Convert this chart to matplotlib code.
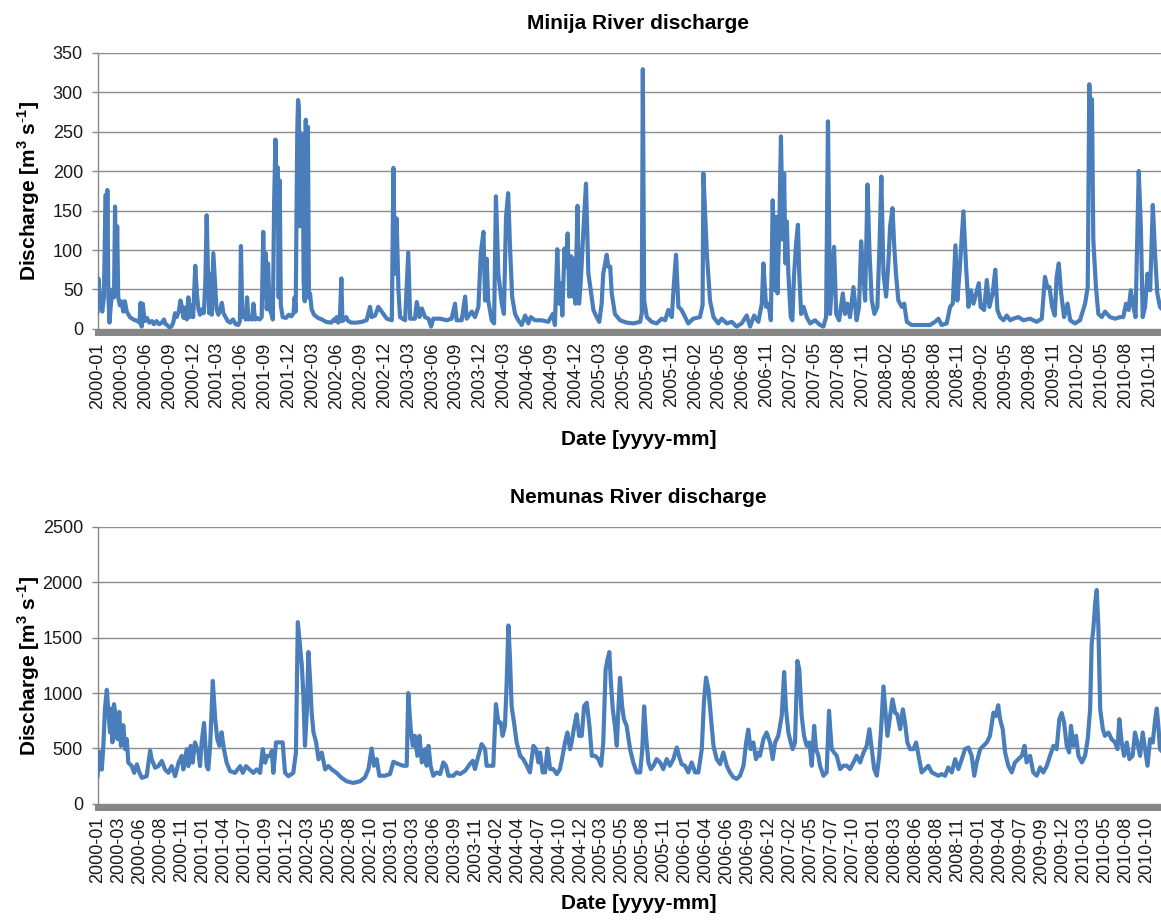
import numpy as np
import matplotlib
matplotlib.use("Agg")
import matplotlib.pyplot as plt

plt.rcParams['font.family'] = ['Liberation Sans', 'DejaVu Sans']
plt.rcParams['mathtext.fontset'] = 'custom'
plt.rcParams['mathtext.rm'] = 'Liberation Sans'
plt.rcParams['mathtext.bf'] = 'Liberation Sans:bold'

# day of record (0 = 2000-01-01) and discharge
minija_day = [0, 3, 7, 12, 18, 24, 28, 31, 34, 37, 41, 45, 50, 56, 62, 66, 70, 74, 78, 84,
              90, 97, 103, 110, 122, 135, 150, 158, 162, 166, 170, 178, 186, 195, 205, 212, 222, 232, 242, 250,
              256, 262, 270, 278, 285, 292, 298, 306, 312, 318, 324, 330, 336, 342, 348, 354, 360, 368, 374, 380,
              386, 394, 400, 406, 411, 416, 420, 424, 430, 436, 442, 448, 455, 462, 468, 474, 482, 490, 500, 510,
              520, 530, 536, 540, 545, 552, 558, 563, 568, 575, 582, 587, 593, 600, 610, 618, 624, 628, 633, 637,
              642, 648, 654, 660, 665, 670, 674, 678, 682, 686, 690, 697, 710, 720, 730, 738, 742, 746, 752, 755,
              758, 762, 765, 768, 772, 776, 780, 784, 788, 792, 796, 800, 806, 815, 830, 845, 860, 880, 890, 896,
              900, 906, 912, 918, 922, 930, 936, 944, 955, 975, 995, 1013, 1026, 1032, 1045, 1057, 1070, 1089, 1108, 1114,
              1120, 1126, 1133, 1139, 1158, 1170, 1177, 1195, 1202, 1212, 1221, 1233, 1246, 1256, 1264, 1290, 1315, 1333, 1346, 1352,
              1371, 1384, 1390, 1409, 1421, 1434, 1443, 1453, 1459, 1465, 1471, 1484, 1493, 1500, 1509, 1522, 1530, 1538, 1546, 1553,
              1561, 1572, 1584, 1597, 1610, 1622, 1631, 1647, 1672, 1697, 1714, 1722, 1731, 1738, 1744, 1750, 1758, 1764, 1770, 1776,
              1783, 1789, 1794, 1799, 1807, 1813, 1819, 1829, 1839, 1848, 1857, 1867, 1879, 1889, 1898, 1904, 1917, 1923, 1930, 1936,
              1948, 1967, 1992, 2017, 2043, 2049, 2053, 2058, 2068, 2086, 2105, 2124, 2137, 2149, 2162, 2171, 2178, 2187, 2199, 2212,
              2224, 2243, 2268, 2278, 2281, 2294, 2306, 2319, 2337, 2350, 2369, 2388, 2406, 2425, 2444, 2457, 2472, 2488, 2501, 2507,
              2517, 2526, 2535, 2542, 2551, 2555, 2560, 2567, 2573, 2580, 2585, 2590, 2595, 2601, 2610, 2616, 2622, 2630, 2637, 2642,
              2649, 2658, 2670, 2683, 2701, 2720, 2733, 2743, 2750, 2758, 2764, 2773, 2781, 2792, 2806, 2814, 2823, 2833, 2846, 2858,
              2867, 2875, 2881, 2890, 2899, 2906, 2915, 2925, 2936, 2944, 2951, 2959, 2969, 2978, 2984, 2993, 2999, 3006, 3015, 3028,
              3037, 3047, 3065, 3084, 3109, 3134, 3153, 3166, 3178, 3197, 3210, 3220, 3230, 3237, 3245, 3260, 3270, 3279, 3288, 3298,
              3308, 3318, 3325, 3338, 3348, 3358, 3370, 3380, 3388, 3398, 3411, 3423, 3436, 3448, 3467, 3486, 3511, 3536, 3555, 3567,
              3576, 3584, 3594, 3604, 3611, 3619, 3628, 3639, 3652, 3662, 3680, 3699, 3718, 3728, 3734, 3739, 3744, 3749, 3759, 3768,
              3781, 3793, 3812, 3831, 3850, 3862, 3872, 3882, 3890, 3900, 3908, 3920, 3928, 3935, 3944, 3953, 3963, 3973, 3982, 3990,
              4000, 4017]
minija_q = [22, 64, 50, 30, 22, 40, 125, 170, 60, 176, 40, 8, 30, 50, 40, 155, 60, 130, 40, 30,
            35, 22, 35, 22, 15, 12, 10, 8, 33, 3, 32, 10, 14, 8, 10, 6, 10, 6, 8, 12,
            6, 5, 2, 3, 8, 20, 15, 22, 36, 28, 14, 27, 12, 40, 15, 30, 15, 80, 45, 25,
            18, 25, 20, 60, 144, 70, 20, 70, 18, 96, 60, 25, 18, 25, 33, 20, 15, 10, 8, 12,
            6, 5, 10, 105, 15, 20, 12, 40, 12, 14, 12, 32, 12, 14, 12, 15, 123, 40, 96, 25,
            83, 25, 20, 12, 162, 240, 150, 205, 40, 188, 30, 15, 14, 18, 16, 20, 40, 22, 250, 290,
            282, 130, 248, 150, 246, 60, 35, 265, 40, 256, 40, 45, 25, 18, 14, 12, 9, 8, 12, 10,
            15, 8, 10, 64, 10, 12, 15, 10, 8, 8, 9, 11, 28, 15, 17, 28, 22, 13, 11, 204,
            70, 140, 49, 15, 11, 97, 13, 13, 34, 15, 26, 15, 13, 3, 13, 13, 11, 13, 32, 11,
            11, 41, 13, 22, 15, 28, 96, 123, 36, 89, 36, 11, 7, 168, 70, 32, 19, 142, 172, 104,
            41, 19, 11, 5, 17, 7, 15, 11, 11, 9, 19, 5, 101, 32, 58, 17, 102, 79, 121, 41,
            92, 41, 89, 32, 156, 32, 58, 123, 184, 70, 49, 24, 15, 9, 32, 70, 94, 79, 79, 45,
            19, 11, 8, 7, 9, 20, 329, 36, 15, 9, 7, 13, 11, 24, 15, 62, 94, 28, 24, 15,
            7, 13, 15, 30, 197, 96, 36, 15, 7, 13, 7, 9, 3, 7, 17, 3, 17, 9, 32, 83,
            28, 32, 11, 163, 49, 142, 45, 134, 244, 113, 197, 83, 136, 70, 15, 11, 66, 108, 132, 70,
            19, 28, 15, 7, 11, 5, 3, 15, 263, 19, 53, 104, 19, 11, 45, 19, 32, 15, 53, 11,
            28, 111, 79, 36, 183, 100, 36, 19, 28, 104, 193, 70, 41, 87, 130, 153, 108, 70, 36, 28,
            32, 9, 5, 5, 5, 5, 9, 13, 5, 7, 28, 32, 106, 36, 70, 149, 79, 28, 49, 32,
            45, 58, 28, 24, 62, 28, 45, 75, 24, 15, 11, 17, 11, 13, 15, 11, 13, 9, 13, 66,
            53, 53, 28, 17, 66, 83, 45, 15, 32, 11, 7, 11, 32, 53, 310, 240, 291, 113, 53, 19,
            15, 22, 15, 13, 15, 15, 32, 24, 49, 28, 15, 200, 130, 15, 28, 70, 49, 157, 92, 45,
            28, 22]

nemunas_day = [0, 3, 9, 16, 22, 28, 35, 41, 47, 51, 56, 62, 70, 75, 82, 88, 97, 104, 110, 116,
               129, 138, 148, 158, 167, 185, 198, 204, 217, 229, 242, 254, 267, 279, 292, 305, 317, 323, 336, 342,
               351, 358, 367, 380, 386, 392, 401, 411, 417, 424, 434, 443, 451, 459, 467, 476, 486, 499, 518, 537,
               547, 559, 572, 587, 599, 612, 622, 631, 639, 650, 656, 662, 672, 685, 697, 706, 719, 737, 747, 754,
               762, 769, 775, 781, 788, 794, 800, 806, 813, 823, 832, 844, 857, 869, 882, 900, 919, 938, 963, 988,
               1007, 1020, 1032, 1041, 1051, 1061, 1082, 1101, 1114, 1133, 1151, 1164, 1170, 1179, 1187, 1195, 1204, 1212, 1221, 1233,
               1239, 1246, 1254, 1264, 1277, 1290, 1302, 1312, 1321, 1340, 1352, 1365, 1384, 1402, 1413, 1421, 1434, 1446, 1459, 1465,
               1478, 1490, 1500, 1509, 1518, 1525, 1534, 1540, 1547, 1553, 1559, 1568, 1578, 1591, 1603, 1616, 1628, 1641, 1651, 1660,
               1666, 1676, 1685, 1694, 1704, 1716, 1729, 1741, 1751, 1760, 1769, 1779, 1785, 1794, 1804, 1813, 1823, 1832, 1842, 1852,
               1861, 1873, 1886, 1896, 1904, 1913, 1920, 1927, 1932, 1940, 1948, 1955, 1961, 1967, 1975, 1982, 1992, 2005, 2017, 2030,
               2043, 2051, 2058, 2065, 2074, 2083, 2093, 2105, 2118, 2130, 2143, 2155, 2168, 2181, 2191, 2199, 2212, 2224, 2237, 2250,
               2262, 2275, 2283, 2291, 2300, 2309, 2319, 2331, 2344, 2356, 2369, 2381, 2394, 2406, 2419, 2432, 2442, 2450, 2459, 2469,
               2479, 2488, 2494, 2507, 2519, 2532, 2542, 2551, 2563, 2576, 2585, 2592, 2601, 2610, 2617, 2626, 2635, 2642, 2651, 2660,
               2670, 2680, 2689, 2698, 2705, 2714, 2720, 2733, 2745, 2754, 2764, 2773, 2783, 2796, 2808, 2821, 2833, 2846, 2858, 2871,
               2884, 2896, 2906, 2915, 2924, 2934, 2943, 2950, 2959, 2966, 2974, 2984, 2993, 3003, 3011, 3022, 3032, 3040, 3049, 3059,
               3072, 3082, 3091, 3103, 3116, 3128, 3141, 3153, 3166, 3178, 3191, 3203, 3216, 3229, 3241, 3254, 3266, 3279, 3291, 3301,
               3310, 3323, 3335, 3348, 3360, 3373, 3382, 3391, 3398, 3408, 3417, 3429, 3442, 3454, 3467, 3480, 3490, 3498, 3511, 3523,
               3536, 3549, 3561, 3574, 3586, 3599, 3611, 3621, 3630, 3639, 3649, 3658, 3665, 3674, 3684, 3693, 3706, 3718, 3728, 3737,
               3743, 3749, 3756, 3762, 3768, 3775, 3785, 3793, 3806, 3818, 3831, 3840, 3847, 3856, 3865, 3875, 3885, 3897, 3906, 3915,
               3925, 3935, 3944, 3953, 3963, 3973, 3982, 3988, 3994, 4000, 4017]
nemunas_q = [250, 340, 470, 310, 525, 860, 1030, 830, 646, 860, 555, 900, 768, 585, 830, 525, 710, 494, 585, 372,
             341, 280, 357, 280, 235, 250, 480, 402, 326, 341, 387, 311, 280, 341, 250, 372, 433, 311, 494, 341,
             524, 372, 555, 463, 341, 555, 730, 341, 311, 524, 1110, 768, 585, 524, 646, 494, 372, 296, 280, 341,
             280, 341, 311, 280, 311, 280, 494, 372, 433, 433, 478, 280, 555, 555, 555, 280, 250, 280, 463, 1640,
             1439, 1256, 982, 524, 829, 1370, 1134, 829, 646, 555, 402, 463, 311, 341, 311, 280, 235, 204, 189, 204,
             240, 314, 500, 344, 404, 254, 254, 269, 380, 359, 344, 344, 1000, 674, 524, 614, 434, 614, 374, 494,
             344, 524, 344, 254, 284, 269, 374, 344, 254, 254, 284, 269, 299, 359, 389, 314, 434, 539, 494, 344,
             344, 344, 900, 734, 734, 614, 704, 1063, 1610, 1302, 883, 734, 554, 434, 404, 344, 284, 524, 494, 374,
             464, 284, 284, 500, 314, 314, 269, 314, 434, 554, 644, 494, 554, 689, 808, 614, 614, 883, 913, 704,
             434, 434, 404, 344, 554, 1213, 1302, 1370, 1123, 853, 704, 524, 853, 1138, 883, 764, 704, 494, 374, 284,
             284, 494, 880, 614, 374, 314, 344, 404, 374, 314, 404, 344, 404, 509, 419, 359, 344, 284, 374, 284,
             284, 494, 913, 1140, 1033, 793, 524, 404, 359, 464, 344, 284, 240, 225, 254, 344, 554, 670, 494, 554,
             404, 464, 434, 584, 644, 554, 404, 554, 614, 793, 1190, 853, 644, 554, 494, 554, 1290, 1213, 793, 614,
             524, 554, 344, 704, 494, 434, 344, 254, 284, 840, 494, 464, 434, 314, 344, 344, 314, 374, 434, 374,
             464, 524, 674, 494, 314, 254, 434, 674, 1060, 853, 614, 793, 943, 823, 808, 674, 853, 734, 554, 494,
             494, 554, 434, 284, 314, 344, 284, 269, 254, 269, 254, 329, 284, 404, 314, 404, 494, 509, 434, 254,
             374, 494, 524, 554, 614, 823, 793, 890, 764, 674, 464, 344, 284, 374, 404, 434, 524, 374, 434, 284,
             254, 329, 284, 344, 434, 524, 494, 764, 820, 734, 524, 464, 704, 524, 614, 434, 374, 434, 584, 853,
             1452, 1572, 1811, 1930, 1602, 853, 674, 614, 644, 584, 554, 494, 764, 554, 434, 554, 404, 434, 644, 554,
             434, 644, 494, 344, 584, 554, 764, 860, 704, 494, 450]

# Excel-style category labels (every 90 / 79 days)
minija_ticks = ["2000-01", "2000-03", "2000-06", "2000-09", "2000-12", "2001-03", "2001-06", "2001-09", "2001-12",
                "2002-03", "2002-06", "2002-09", "2002-12", "2003-03", "2003-06", "2003-09", "2003-12", "2004-03",
                "2004-06", "2004-09", "2004-12", "2005-03", "2005-06", "2005-09", "2005-11", "2006-02", "2006-05",
                "2006-08", "2006-11", "2007-02", "2007-05", "2007-08", "2007-11", "2008-02", "2008-05", "2008-08",
                "2008-11", "2009-02", "2009-05", "2009-08", "2009-11", "2010-02", "2010-05", "2010-08", "2010-11"]
nemunas_ticks = ["2000-01", "2000-03", "2000-06", "2000-08", "2000-11", "2001-01", "2001-04", "2001-07", "2001-09",
                 "2001-12", "2002-03", "2002-05", "2002-08", "2002-10", "2003-01", "2003-03", "2003-06", "2003-09",
                 "2003-11", "2004-02", "2004-04", "2004-07", "2004-10", "2004-12", "2005-03", "2005-05", "2005-08",
                 "2005-11", "2006-01", "2006-04", "2006-06", "2006-09", "2006-12", "2007-02", "2007-05", "2007-07",
                 "2007-10", "2008-01", "2008-03", "2008-06", "2008-08", "2008-11", "2009-01", "2009-04", "2009-07",
                 "2009-09", "2009-12", "2010-03", "2010-05", "2010-08", "2010-10"]

blue = '#4a7ebb'
gray = '#888888'
ylab = r'Discharge [m$^\mathbf{3}$ s$^\mathbf{\text{-}1}$]'

fig = plt.figure(figsize=(11.61, 9.24), dpi=100)
ax1 = fig.add_axes([0.084, 0.644, 0.919, 0.299])
ax2 = fig.add_axes([0.084, 0.130, 0.919, 0.2998])

panels = [
    (ax1, minija_day, minija_q, minija_ticks, 90, 350, 50, "Minija River discharge", -0.365),
    (ax2, nemunas_day, nemunas_q, nemunas_ticks, 79, 2500, 500, "Nemunas River discharge", -0.325),
]

for ax, d, q, labels, step, ymax, ystep, title, xl_y in panels:
    ax.plot(d, q, color=blue, lw=3.0, solid_joinstyle='round', zorder=3)
    ax.set_xlim(0, 4017)
    ax.set_ylim(0, ymax)
    ax.set_yticks(np.arange(0, ymax + 1, ystep))
    ax.set_xticks(np.arange(len(labels)) * step)
    ax.set_xticklabels(labels)
    ax.grid(axis='y', color='#8c8c8c', lw=1.0)
    ax.set_axisbelow(True)
    for s in ['top', 'right']:
        ax.spines[s].set_visible(False)
    ax.spines['left'].set_color(gray)
    ax.spines['left'].set_linewidth(1.0)
    ax.spines['bottom'].set_color('#868686')
    ax.spines['bottom'].set_linewidth(5)
    ax.spines['bottom'].set_position(('outward', 2.5))
    ax.tick_params(axis='y', length=4.5, color=gray, width=1, pad=6, labelsize=13, labelcolor='#1a1a1a')
    ax.tick_params(axis='x', length=0, pad=7, labelsize=13, labelcolor='#1a1a1a', labelrotation=90)
    ax.set_title(title, fontsize=15, fontweight='bold', x=0.507, y=1.055)
    ax.set_xlabel("Date [yyyy-mm]", fontsize=15, fontweight='bold')
    ax.xaxis.set_label_coords(0.507, xl_y)
    ax.set_ylabel(ylab, fontsize=15, fontweight='bold')
    ax.yaxis.set_label_coords(-0.052, 0.5)

fig.savefig("out.png", dpi=100)
